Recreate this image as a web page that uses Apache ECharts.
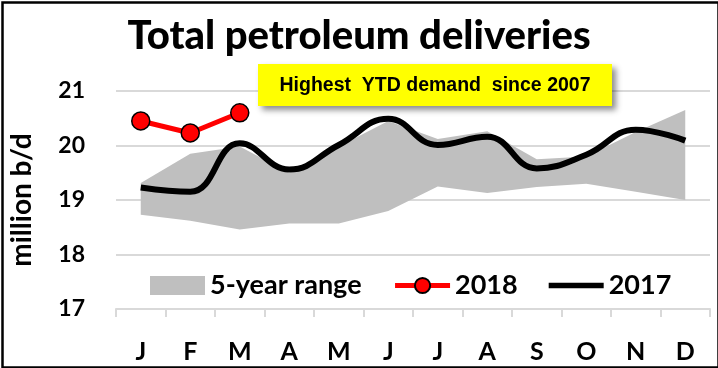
<!DOCTYPE html>
<html>
<head>
<meta charset="utf-8">
<script src="https://cdn.jsdelivr.net/npm/echarts@6/dist/echarts.min.js"></script>
<style>
html,body{margin:0;padding:0;background:#fff;}
#c{width:718px;height:368px;}
</style>
</head>
<body>
<div id="c"></div>
<script>
var months = ['J','F','M','A','M','J','J','A','S','O','N','D'];
var rangeLow  = [18.73, 18.62, 18.46, 18.57, 18.57, 18.80, 19.25, 19.13, 19.24, 19.30, 19.15, 19.00];
var rangeHigh = [19.31, 19.85, 19.98, 19.50, 19.98, 20.45, 20.12, 20.26, 19.75, 19.80, 20.25, 20.65];
var s2018 = [20.45, 20.23, 20.60];
var s2017 = [19.23, 19.15, 20.04, 19.56, 20.01, 20.49, 20.01, 20.16, 19.58, 19.83, 20.29, 20.09];
var yMin = 17, yMax = 21, yStep = 1;

var band = rangeHigh.map(function(h, i){ return +(h - rangeLow[i]).toFixed(3); });
var FONT = 'Lato';

var chart = echarts.init(document.getElementById('c'), null, {renderer:'canvas'});
chart.setOption({
  animation: false,
  backgroundColor: '#ffffff',
  title: {
    text: 'Total petroleum deliveries',
    left: 'center',
    top: 11,
    textStyle: {fontFamily: FONT, fontWeight: 900, fontSize: 40, color: '#000'}
  },
  grid: {left: 116, right: 8, top: 91, bottom: 59},
  legend: {
    left: 145, top: 267,
    itemWidth: 55, itemHeight: 19, itemGap: 31,
    textStyle: {fontFamily: FONT, fontSize: 27, fontWeight: 'bold', color: '#000'},
    data: [
      {name: '5-year range', icon: 'rect', itemStyle: {color: '#bfbfbf'}},
      {name: '2018', lineStyle: {width: 5, color: '#ff0000'}},
      {name: '2017', icon: 'path://M0,0 L55,0 L55,5.5 L0,5.5 Z', itemStyle: {color: '#000'}}
    ]
  },
  xAxis: {
    type: 'category',
    data: months,
    boundaryGap: true,
    axisLine: {lineStyle: {color: '#d9d9d9', width: 2}},
    axisTick: {show: true, length: 8, lineStyle: {color: '#d9d9d9', width: 2}},
    axisLabel: {fontFamily: FONT, fontSize: 25, fontWeight: 'bold', color: '#000', margin: 30, interval: 0}
  },
  yAxis: {
    type: 'value',
    min: yMin, max: yMax, interval: yStep,
    name: 'million b/d',
    nameLocation: 'middle',
    nameRotate: 90,
    nameGap: 80,
    nameTextStyle: {fontFamily: FONT, fontSize: 28, fontWeight: 'bold', color: '#000'},
    axisLine: {show: false},
    axisTick: {show: false},
    axisLabel: {fontFamily: FONT, fontSize: 23, fontWeight: 'bold', color: '#000', margin: 31},
    splitLine: {lineStyle: {color: '#d9d9d9', width: 2}}
  },
  series: [
    {
      name: 'rangeBase', type: 'line', stack: 'range', data: rangeLow,
      symbol: 'none', lineStyle: {width: 0, opacity: 0}, silent: true, z: 1
    },
    {
      name: '5-year range', type: 'line', stack: 'range', data: band,
      symbol: 'none', lineStyle: {width: 0, opacity: 0},
      itemStyle: {color: '#bfbfbf'},
      areaStyle: {color: '#bfbfbf', opacity: 1}, silent: true, z: 1
    },
    {
      name: '2017', type: 'line', data: s2017, smooth: 0.45,
      symbol: 'none', itemStyle: {color: '#000'},
      lineStyle: {color: '#000', width: 6}, z: 3
    },
    {
      name: '2018', type: 'line', data: s2018,
      symbol: 'circle', symbolSize: 18,
      itemStyle: {color: '#ff0000', borderColor: '#000', borderWidth: 1.5},
      lineStyle: {color: '#ff0000', width: 5}, z: 4
    }
  ],
  graphic: [
    {
      type: 'rect', left: 258, top: 64, z: 10,
      shape: {width: 354, height: 42},
      style: {fill: '#ffff00', shadowBlur: 6, shadowOffsetX: 4, shadowOffsetY: 4, shadowColor: 'rgba(0,0,0,0.45)'}
    },
    {
      type: 'text', z: 11,
      x: 435, y: 86,
      style: {text: 'Highest  YTD demand  since 2007', fill: '#000',
        align: 'center', verticalAlign: 'middle',
        font: 'bold 19.5px "Liberation Sans", Arial, sans-serif'}
    },
    {
      type: 'rect', left: 0, top: 0, z: 20, silent: true,
      shape: {x: 1, y: 1, width: 716, height: 365},
      style: {fill: 'none', stroke: '#000', lineWidth: 2.5}
    }
  ]
});
</script>
</body>
</html>
